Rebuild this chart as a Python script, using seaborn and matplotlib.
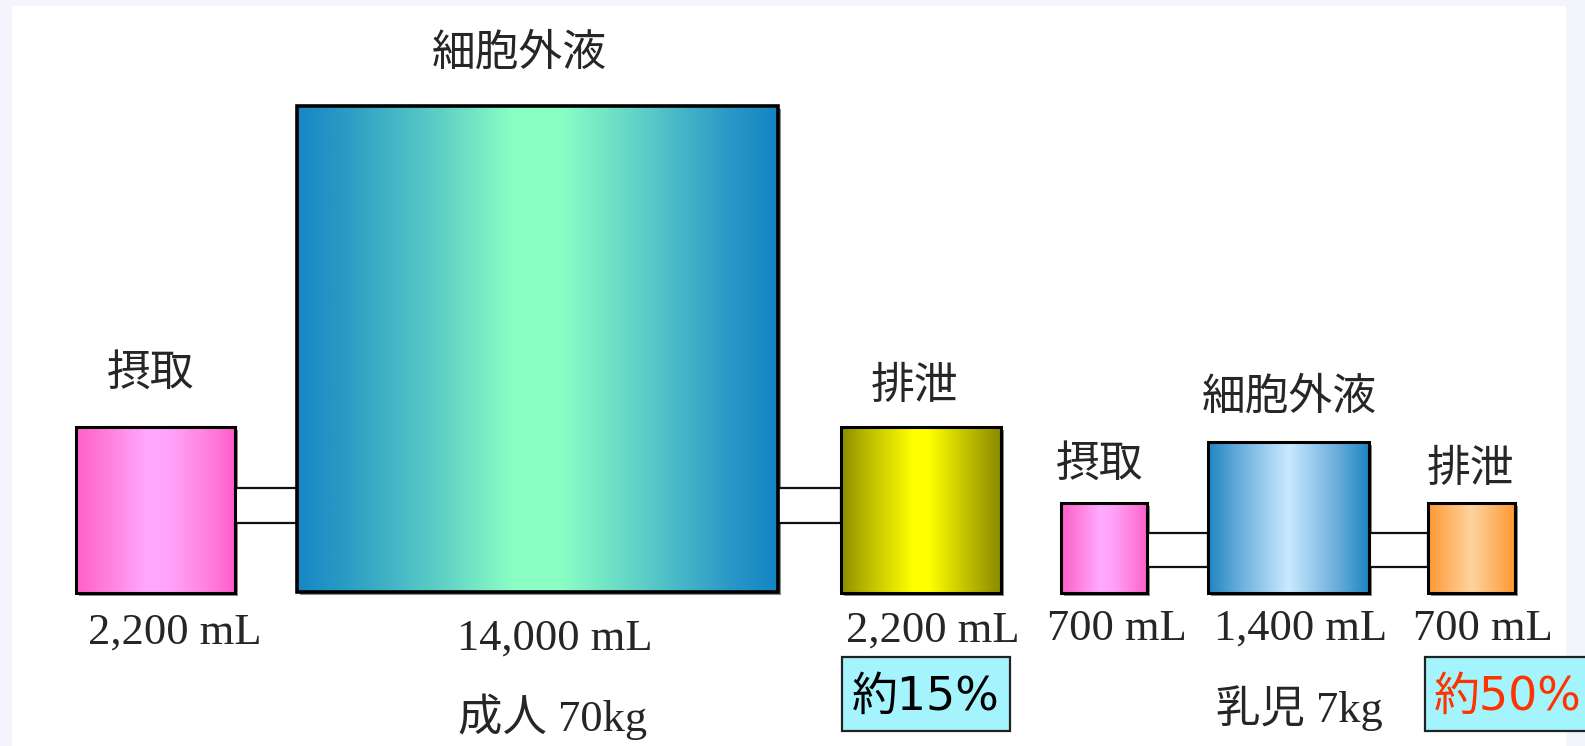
import numpy as np
import matplotlib
matplotlib.use("Agg")
import matplotlib.pyplot as plt
import seaborn as sns
from matplotlib.patches import Rectangle
from matplotlib.colors import LinearSegmentedColormap

sns.set_theme(style="white")
plt.rcParams['font.family'] = ['Noto Sans CJK JP', 'DejaVu Sans']

# ---- data ----
groups = ["成人 70kg", "乳児 7kg"]
compartments = ["摂取", "細胞外液", "排泄"]
adult_volumes = [2200, 14000, 2200]      # mL
infant_volumes = [700, 1400, 700]        # mL
adult_vol_labels = ["2,200 mL", "14,000 mL", "2,200 mL"]
infant_vol_labels = ["700 mL", "1,400 mL", "700 mL"]
ratio_labels = ["約15%", "約50%"]

# ---- layout (pixel coordinates, y downward) ----
W, H = 1585, 746
fig = plt.figure(figsize=(W / 100, H / 100), dpi=100, facecolor="#f4f4fd")
ax = fig.add_axes([0, 0, 1, 1])
ax.set_xlim(0, W)
ax.set_ylim(H, 0)
ax.axis("off")
ax.add_patch(Rectangle((12, 6), 1566 - 12, H, facecolor="white", edgecolor="none", zorder=0))

def cmap(stops):
    return LinearSegmentedColormap.from_list("g", stops)

pink = cmap([(0, "#ff5fcb"), (0.12, "#ff72d2"), (0.45, "#ffa8ff"), (0.6, "#ffa2f8"), (0.88, "#ff78d8"), (1, "#ff5ccb")])
teal = cmap([(0, "#1786c4"), (0.1, "#2a9cc4"), (0.3, "#60d0c6"), (0.45, "#8affc4"), (0.55, "#8affc4"), (0.72, "#5ecec8"), (0.9, "#2a98c6"), (1, "#1485c4")])
yellow = cmap([(0, "#8c8c00"), (0.15, "#b8b800"), (0.45, "#ffff00"), (0.55, "#ffff00"), (0.85, "#b0b000"), (1, "#8a8a00")])
lblue = cmap([(0, "#1e86c0"), (0.2, "#6aaedc"), (0.5, "#caeaff"), (0.8, "#6aaedc"), (1, "#1e86c0")])
orange = cmap([(0, "#ff9830"), (0.2, "#fdb060"), (0.5, "#fdd49c"), (0.8, "#fdb060"), (1, "#ff9830")])

def gbox(x0, x1, y0, y1, cm, lw=2.2):
    ax.add_patch(Rectangle((x0 + 2.5, y0 + 2.5), x1 - x0, y1 - y0, facecolor="#8a8a8a", edgecolor="none", zorder=1))
    grad = np.linspace(0, 1, 256)[None, :]
    ax.imshow(grad, cmap=cm, extent=(x0, x1, y1, y0), aspect="auto", interpolation="bilinear", zorder=2)
    ax.add_patch(Rectangle((x0, y0), x1 - x0, y1 - y0, facecolor="none", edgecolor="black", lw=lw, zorder=3))

def conn(x0, x1, y0, y1):
    ax.add_patch(Rectangle((x0, y0), x1 - x0, y1 - y0, facecolor="white", edgecolor="#111111", lw=1.6, zorder=1.5))

# adult
conn(235, 297, 488, 523)
conn(778, 841, 488, 523)
gbox(76, 235, 427, 593, pink)
gbox(297, 778, 106, 592, teal, lw=2.6)
gbox(841, 1001, 427, 593, yellow)
# infant
conn(1147, 1208, 533, 567)
conn(1369, 1428, 533, 567)
gbox(1061, 1147, 503, 593, pink)
gbox(1208, 1369, 442, 593, lblue)
gbox(1428, 1515, 503, 593, orange)

fs_cjk = 31.5
fs_ser = 32
cjk = ['Noto Sans CJK JP', 'DejaVu Sans']
serif = ['Liberation Serif', 'Noto Sans CJK JP']
sans = ['DejaVu Sans', 'Noto Sans CJK JP']

# compartment names
for (x, y), name in zip([(151, 373), (519, 53), (914, 386)], compartments):
    ax.text(x, y, name, ha="center", va="center", fontsize=fs_cjk, family=cjk, zorder=5)
for (x, y), name in zip([(1100, 464), (1289, 397), (1470, 469)], compartments):
    ax.text(x, y, name, ha="center", va="center", fontsize=fs_cjk, family=cjk, zorder=5)

# volume labels
for (x, y), lab in zip([(175, 644), (555, 650), (933, 642)], adult_vol_labels):
    ax.text(x, y, lab, ha="center", va="baseline", fontsize=fs_ser, family=serif, zorder=5)
for (x, y), lab in zip([(1117, 640), (1301, 640), (1483, 640)], infant_vol_labels):
    ax.text(x, y, lab, ha="center", va="baseline", fontsize=fs_ser, family=serif, zorder=5)

# group labels
ax.text(553, 731, groups[0], ha="center", va="baseline", fontsize=fs_ser, family=serif, zorder=5)
ax.text(1299, 722, groups[1], ha="center", va="baseline", fontsize=fs_ser, family=serif, zorder=5)

# ratio boxes
ax.add_patch(Rectangle((842, 657), 1010 - 842, 731 - 657, facecolor="#a4f4fe", edgecolor="#222222", lw=1.6, zorder=4))
ax.text(926, 697, ratio_labels[0], ha="center", va="center", fontsize=33, family=sans, color="black", zorder=5)
ax.add_patch(Rectangle((1425, 657), 1600 - 1425, 731 - 657, facecolor="#a4f4fe", edgecolor="#222222", lw=1.6, zorder=4))
ax.text(1508, 697, ratio_labels[1], ha="center", va="center", fontsize=33, family=sans, color="#ff3300", zorder=5)

fig.savefig("out.png", dpi=100, facecolor=fig.get_facecolor())
